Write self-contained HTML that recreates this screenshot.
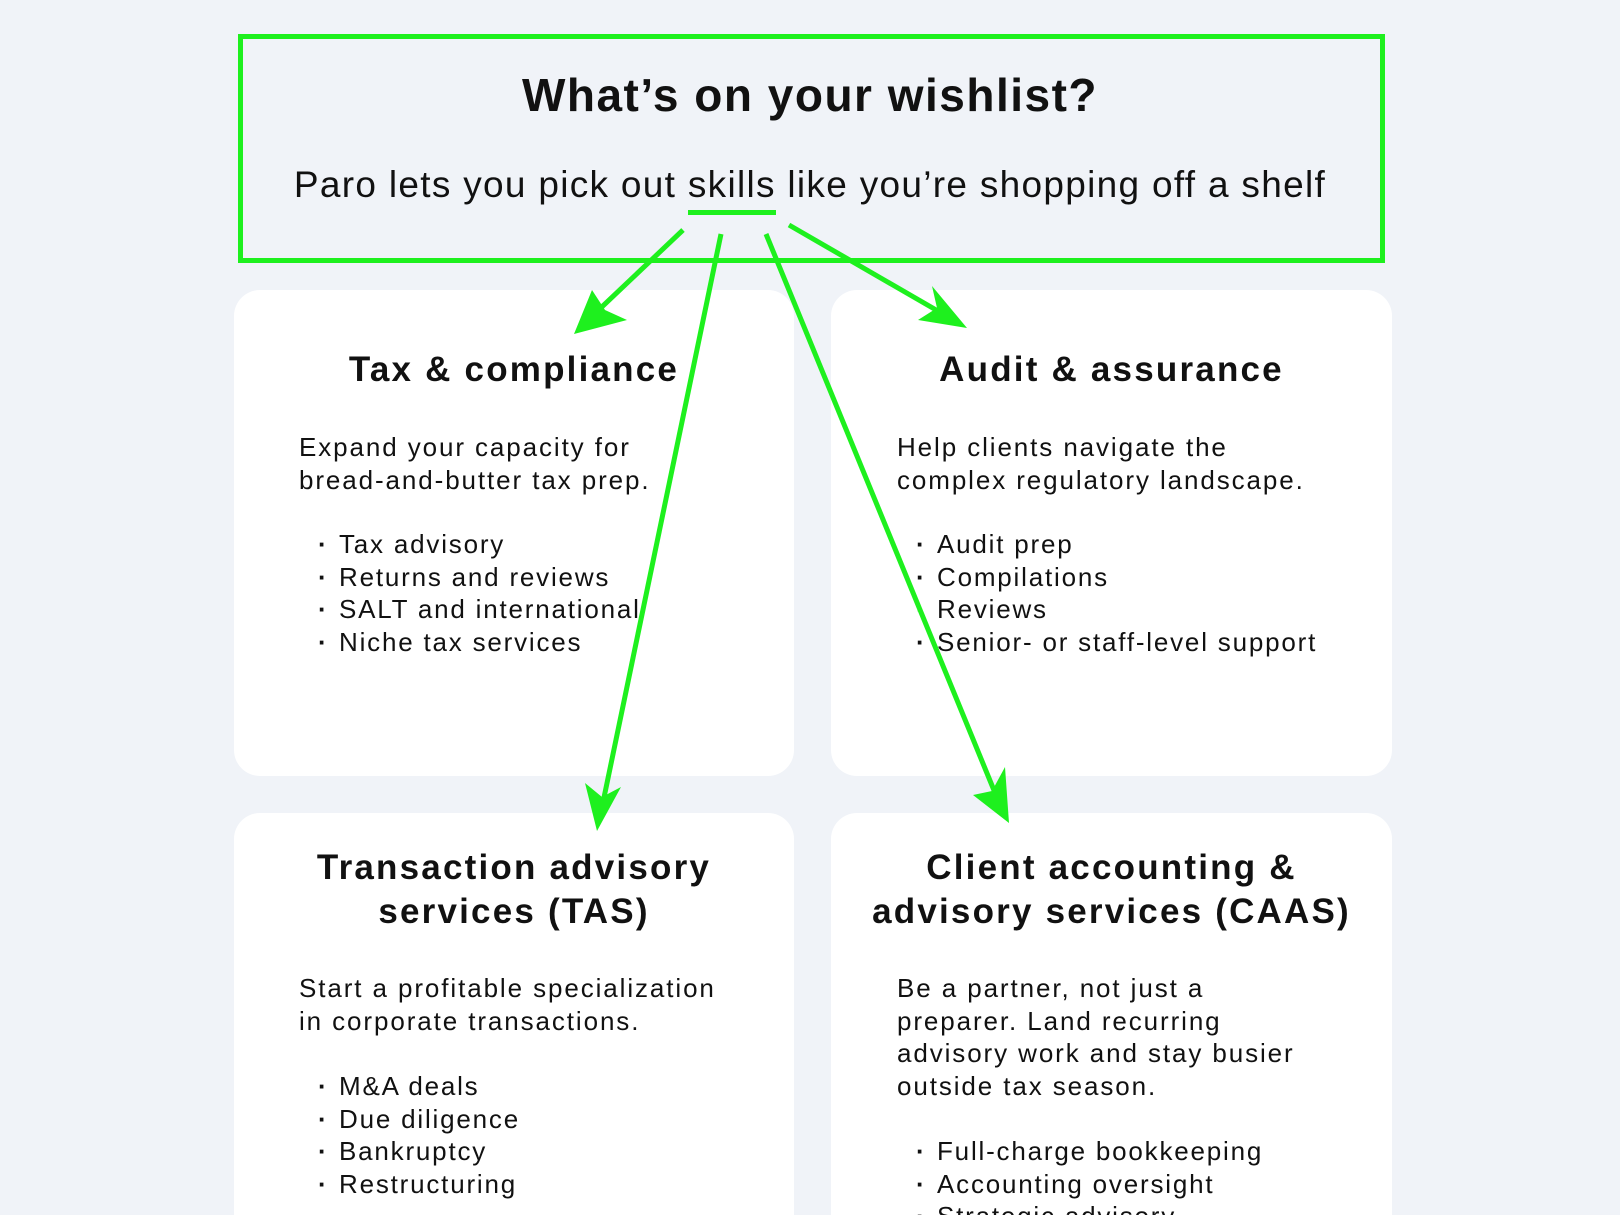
<!DOCTYPE html>
<html><head><meta charset="utf-8"><style>
*{margin:0;padding:0;box-sizing:border-box}
html{width:1620px;height:1215px;overflow:hidden}
body{width:1620px;height:1215px;background:#f0f3f8;position:relative;overflow:hidden;font-family:"Liberation Sans",sans-serif;color:#111}
.box{position:absolute;left:238px;top:34px;width:1147px;height:229px;border:5px solid #1ef01e}
.t{position:absolute;left:0;width:1620px;text-align:center}
.card{position:absolute;background:#fff;border-radius:26px}
.h{position:absolute;text-align:center;font-weight:bold;font-size:35px;line-height:44px;letter-spacing:2.2px}
.p{position:absolute;font-size:26px;line-height:32.6px;letter-spacing:1.9px;white-space:nowrap}
.b{position:absolute;font-size:26px;line-height:32.6px;letter-spacing:1.8px;white-space:nowrap}
.b div{position:relative;padding-left:21px}
.b div:before{content:"·";position:absolute;left:0;font-weight:bold}
</style></head><body>
<div class="box"></div>
<div class="t" style="top:68px;font-size:46px;font-weight:bold;letter-spacing:1.5px">What’s on your wishlist?</div>
<div class="t" style="top:164px;font-size:37px;letter-spacing:1.3px">Paro lets you pick out <span style="position:relative">skills<span style="position:absolute;left:0;right:0;top:46px;height:5px;background:#1ef01e"></span></span> like you’re shopping off a shelf</div>

<div class="card" style="left:234px;top:290px;width:560px;height:486px"></div>
<div class="card" style="left:831px;top:290px;width:561px;height:486px"></div>
<div class="card" style="left:234px;top:813px;width:560px;height:402px;border-radius:26px 26px 0 0"></div>
<div class="card" style="left:831px;top:813px;width:561px;height:402px;border-radius:26px 26px 0 0"></div>

<div class="h" style="left:234px;width:560px;top:348px">Tax &amp; compliance</div>
<div class="p" style="left:299px;top:431px">Expand your capacity for<br>bread-and-butter tax prep.</div>
<div class="b" style="left:318px;top:528px"><div>Tax advisory</div><div>Returns and reviews</div><div>SALT and international</div><div>Niche tax services</div></div>

<div class="h" style="left:831px;width:561px;top:348px">Audit &amp; assurance</div>
<div class="p" style="left:897px;top:431px">Help clients navigate the<br>complex regulatory landscape.</div>
<div class="b" style="left:916px;top:528px"><div>Audit prep</div><div>Compilations</div><div>Reviews</div><div>Senior- or staff-level support</div></div>

<div class="h" style="left:234px;width:560px;top:846px">Transaction advisory<br>services (TAS)</div>
<div class="p" style="left:299px;top:972px">Start a profitable specialization<br>in corporate transactions.</div>
<div class="b" style="left:318px;top:1070px"><div>M&amp;A deals</div><div>Due diligence</div><div>Bankruptcy</div><div>Restructuring</div></div>

<div class="h" style="left:831px;width:561px;top:846px">Client accounting &amp;<br>advisory services (CAAS)</div>
<div class="p" style="left:897px;top:972px">Be a partner, not just a<br>preparer. Land recurring<br>advisory work and stay busier<br>outside tax season.</div>
<div class="b" style="left:916px;top:1135px"><div>Full-charge bookkeeping</div><div>Accounting oversight</div><div>Strategic advisory</div></div>

<svg width="1620" height="1215" style="position:absolute;left:0;top:0">
<g stroke="#1ef01e" stroke-width="5" fill="none">
<line x1="683" y1="230" x2="587" y2="321"/>
<line x1="721" y1="234" x2="601" y2="812"/>
<line x1="766" y1="234" x2="1000" y2="805"/>
<line x1="789" y1="225" x2="950" y2="318"/>
</g>
<g fill="#1ef01e">
<polygon points="574,334 592,290 605,310 627,320"/>
<polygon points="597,831 585,783 602,797 621,787"/>
<polygon points="1009,823 973,795 992,791 1005,767"/>
<polygon points="967,328 932,286 937,308 918,320"/>
</g>
</svg>
</body></html>
